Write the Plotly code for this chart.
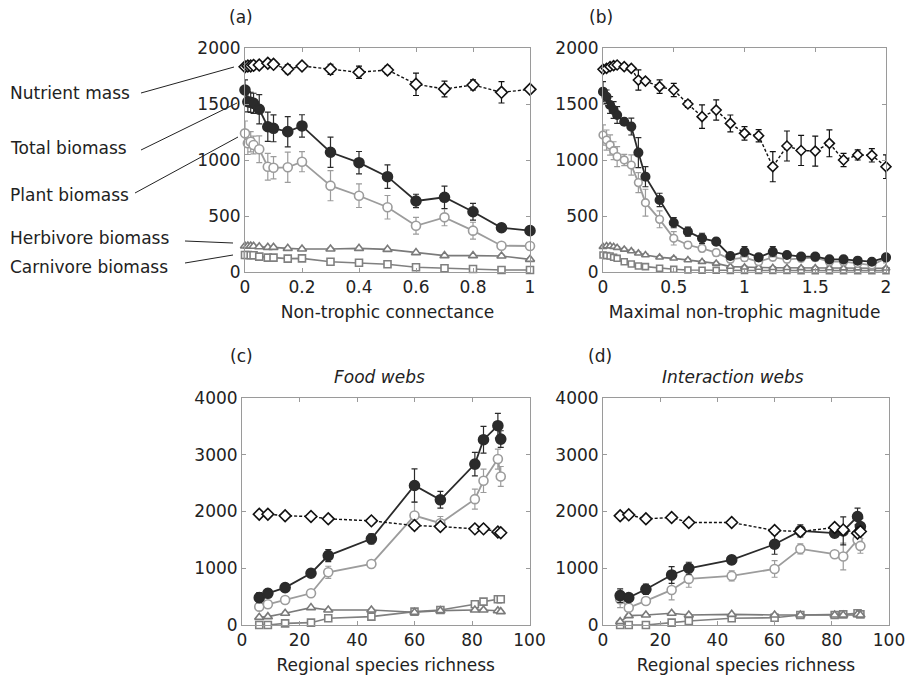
import plotly.graph_objects as go

# ---------------- data ----------------
a_x = [0, 0.01, 0.02, 0.03, 0.05, 0.08, 0.1, 0.15, 0.2, 0.3, 0.4, 0.5, 0.6, 0.7, 0.8, 0.9, 1.0]
a_nut = [1833, 1840, 1840, 1845, 1848, 1863, 1854, 1810, 1839, 1810, 1783, 1804, 1676, 1634, 1670, 1604, 1631]
a_nut_err = [10, 10, 10, 10, 15, 15, 20, 40, 30, 45, 55, 35, 100, 70, 45, 95, 25]
a_tot = [1625, 1520, 1515, 1506, 1453, 1297, 1283, 1253, 1304, 1069, 976, 851, 634, 667, 538, 395, 369]
a_tot_err = [90, 90, 90, 90, 130, 130, 120, 135, 100, 135, 100, 105, 60, 100, 75, 30, 25]
a_pla = [1238, 1149, 1163, 1134, 1096, 940, 931, 935, 985, 771, 681, 578, 413, 488, 369, 235, 232]
a_pla_err = [110, 100, 90, 80, 120, 120, 100, 135, 90, 135, 105, 105, 75, 75, 75, 20, 15]
a_her = [232, 232, 232, 230, 226, 220, 220, 211, 205, 205, 211, 202, 173, 146, 146, 143, 113]
a_her_err = [10, 10, 10, 10, 10, 10, 10, 10, 10, 10, 10, 10, 10, 10, 10, 10, 10]
a_car = [152, 152, 150, 150, 137, 128, 128, 119, 122, 92, 83, 69, 42, 33, 27, 18, 18]
a_car_err = [8, 8, 8, 8, 8, 8, 8, 8, 8, 8, 8, 8, 8, 8, 8, 8, 8]

b_x = [0, 0.025, 0.05, 0.075, 0.1, 0.15, 0.2, 0.25, 0.3, 0.4, 0.5, 0.6, 0.7, 0.8, 0.9, 1.0,
       1.1, 1.2, 1.3, 1.4, 1.5, 1.6, 1.7, 1.8, 1.9, 2.0]
b_nut = [1810, 1818, 1833, 1842, 1848, 1833, 1818, 1714, 1705, 1655, 1625, 1500, 1387, 1446, 1327, 1238,
         1217, 940, 1125, 1085, 1080, 1149, 1000, 1045, 1042, 940]
b_nut_err = [5, 5, 5, 5, 5, 10, 10, 90, 15, 60, 60, 30, 105, 90, 75, 60, 55, 134, 134, 134, 134, 120, 60, 45, 60, 105]
b_tot = [1610, 1565, 1491, 1446, 1402, 1342, 1298, 1066, 851, 643, 440, 360, 301, 271, 143, 181,
         131, 181, 152, 137, 137, 113, 113, 101, 92, 131]
b_tot_err = [90, 60, 75, 75, 75, 30, 75, 134, 90, 60, 45, 40, 45, 30, 30, 45, 30, 45, 30, 25, 25, 20, 20, 20, 20, 30]
b_pla = [1223, 1178, 1134, 1083, 1030, 1000, 955, 798, 619, 470, 301, 241, 211, 173, 113, 128,
         92, 131, 113, 122, 128, 92, 92, 77, 62, 122]
b_pla_err = [90, 90, 90, 80, 90, 50, 90, 90, 120, 75, 60, 30, 30, 30, 30, 30, 30, 30, 30, 30, 30, 30, 30, 30, 30, 40]
b_her = [226, 232, 232, 226, 217, 202, 187, 167, 152, 131, 122, 107, 92, 77, 48, 42,
         40, 38, 38, 36, 35, 35, 34, 34, 33, 33]
b_her_err = [10] * 26
b_car = [152, 146, 143, 131, 122, 92, 71, 54, 48, 33, 24, 18, 16, 15, 14, 14,
         13, 13, 13, 12, 12, 12, 12, 12, 12, 12]
b_car_err = [8] * 26

c_x = [6, 9, 15, 24, 30, 45, 60, 69, 81, 84, 89, 90]
c_nut = [1953, 1953, 1924, 1912, 1871, 1835, 1753, 1735, 1694, 1694, 1640, 1625]
c_nut_err = [10, 10, 20, 20, 30, 20, 60, 40, 20, 20, 40, 40]
c_tot = [482, 559, 659, 912, 1223, 1518, 2458, 2206, 2835, 3265, 3512, 3276]
c_tot_err = [90, 70, 40, 40, 106, 90, 294, 147, 206, 235, 218, 147]
c_pla = [323, 365, 441, 559, 929, 1076, 1929, 1794, 2218, 2541, 2924, 2617]
c_pla_err = [40, 40, 30, 30, 106, 40, 235, 118, 176, 206, 176, 176]
c_her = [135, 147, 206, 306, 265, 265, 224, 253, 265, 265, 250, 235]
c_her_err = [15] * 12
c_car = [0, 0, 29, 41, 118, 147, 235, 265, 365, 412, 453, 453]
c_car_err = [10, 10, 10, 10, 15, 15, 20, 20, 25, 25, 30, 30]

d_x = [6, 9, 15, 24, 30, 45, 60, 69, 81, 84, 89, 90]
d_nut = [1924, 1941, 1871, 1894, 1806, 1806, 1665, 1647, 1718, 1676, 1618, 1647]
d_nut_err = [15, 15, 40, 30, 25, 25, 50, 40, 30, 30, 40, 40]
d_tot = [518, 482, 629, 882, 1000, 1147, 1423, 1659, 1618, 1659, 1912, 1735]
d_tot_err = [118, 40, 90, 147, 106, 70, 176, 106, 60, 247, 147, 147]
d_pla = [453, 306, 424, 618, 812, 865, 988, 1341, 1247, 1206, 1500, 1394]
d_pla_err = [147, 40, 60, 176, 147, 90, 147, 90, 50, 235, 90, 130]
d_her = [59, 165, 176, 206, 176, 188, 176, 176, 176, 176, 188, 176]
d_her_err = [15] * 12
d_car = [0, 0, 0, 41, 71, 118, 129, 176, 176, 188, 206, 188]
d_car_err = [10] * 12

series_labels = ["Nutrient mass", "Total biomass", "Plant biomass", "Herbivore biomass", "Carnivore biomass"]
panel_tags = ["(a)", "(b)", "(c)", "(d)"]
panel_titles = ["Food webs", "Interaction webs"]
x_titles = ["Non-trophic connectance", "Maximal non-trophic magnitude",
            "Regional species richness", "Regional species richness"]

# ---------------- styling ----------------
W, H = 908, 679
FONT = "DejaVu Sans"
FS = 17
C_TOT = "#2b2b2b"
C_PLA = "#9c9c9c"
C_HER = "#7a7a7a"
C_CAR = "#808080"
C_NUT = "#111111"
C_AX = "#9a9a9a"


def fx(px):
    return px / W


def fy(py):
    return 1 - py / H


fig = go.Figure()

panels = [
    dict(x=a_x, nut=(a_nut, a_nut_err), tot=(a_tot, a_tot_err), pla=(a_pla, a_pla_err),
         her=(a_her, a_her_err), car=(a_car, a_car_err), xa="x", ya="y", ms=1.0),
    dict(x=b_x, nut=(b_nut, b_nut_err), tot=(b_tot, b_tot_err), pla=(b_pla, b_pla_err),
         her=(b_her, b_her_err), car=(b_car, b_car_err), xa="x2", ya="y2", ms=0.85),
    dict(x=c_x, nut=(c_nut, c_nut_err), tot=(c_tot, c_tot_err), pla=(c_pla, c_pla_err),
         her=(c_her, c_her_err), car=(c_car, c_car_err), xa="x3", ya="y3", ms=1.0),
    dict(x=d_x, nut=(d_nut, d_nut_err), tot=(d_tot, d_tot_err), pla=(d_pla, d_pla_err),
         her=(d_her, d_her_err), car=(d_car, d_car_err), xa="x4", ya="y4", ms=1.0),
]


def add(p, key, name, color, symbol, size, fill, dash="solid", lw=1.6):
    y, e = p[key]
    fig.add_trace(go.Scatter(
        x=p["x"], y=y, name=name, mode="lines+markers", xaxis=p["xa"], yaxis=p["ya"],
        line=dict(color=color, width=lw, dash=dash),
        marker=dict(symbol=symbol, size=size * p["ms"], color=fill, line=dict(color=color, width=1.6)),
        error_y=dict(type="data", array=e, color=color, thickness=1.2, width=3),
        cliponaxis=False, showlegend=False))


for p in panels:
    add(p, "car", series_labels[4], C_CAR, "square", 7, "white")
    add(p, "her", series_labels[3], C_HER, "triangle-up", 8, "white")
    add(p, "pla", series_labels[2], C_PLA, "circle", 9, "white", lw=1.8)
    add(p, "tot", series_labels[1], C_TOT, "circle", 10, C_TOT, lw=1.8)
    add(p, "nut", series_labels[0], C_NUT, "diamond", 9, "white", dash="3px,2px", lw=1.4)

ax_common = dict(showline=True, mirror="ticks", linecolor=C_AX, linewidth=1, ticks="inside",
                 ticklen=4, tickcolor=C_AX, showgrid=False, zeroline=False, automargin=False,
                 tickfont=dict(family=FONT, size=FS, color="#222"))

doms = [
    ((245, 530), (48, 272)),
    ((603, 886), (48, 272)),
    ((242, 529.5), (398, 625)),
    ((603, 889), (398, 625)),
]
xranges = [[0, 1], [0, 2], [0, 100], [0, 100]]
xticks = [[0, 0.2, 0.4, 0.6, 0.8, 1], [0, 0.5, 1, 1.5, 2], [0, 20, 40, 60, 80, 100], [0, 20, 40, 60, 80, 100]]
yranges = [[0, 2000], [0, 2000], [0, 4000], [0, 4000]]
yticks = [[0, 500, 1000, 1500, 2000], [0, 500, 1000, 1500, 2000],
          [0, 1000, 2000, 3000, 4000], [0, 1000, 2000, 3000, 4000]]

layout = {}
for i, ((x0, x1), (y0, y1)) in enumerate(doms):
    s = "" if i == 0 else str(i + 1)
    layout["xaxis" + s] = dict(ax_common, domain=[fx(x0), fx(x1)], range=xranges[i],
                               tickvals=xticks[i], anchor="y" + s,
                               title=dict(text=x_titles[i], font=dict(family=FONT, size=FS, color="#222"),
                                          standoff=9))
    layout["yaxis" + s] = dict(ax_common, domain=[fy(y1), fy(y0)], range=yranges[i],
                               tickvals=yticks[i], anchor="x" + s)

fig.update_layout(template="none")
fig.update_layout(**layout)

annotations = []
tag_pos = [(241, 17), (601, 17), (241, 356), (600, 356)]
for t, (x, y) in zip(panel_tags, tag_pos):
    annotations.append(dict(text=t, x=fx(x), y=fy(y), xref="paper", yref="paper",
                            xanchor="center", yanchor="middle",
                            showarrow=False, font=dict(family=FONT, size=FS, color="#222")))
for t, (x, y) in zip(panel_titles, [(379, 377), (733, 377)]):
    annotations.append(dict(text="<i>" + t + "</i>", x=fx(x), y=fy(y), xref="paper", yref="paper",
                            xanchor="center", yanchor="middle",
                            showarrow=False, font=dict(family=FONT, size=FS, color="#222")))

label_pos = [(93, (141, 93), (234, 67)), (148, (141, 150), (237, 103)), (195, (135, 193), (238, 137)),
             (238, (185, 241), (233, 243)), (267, (185, 263), (233, 255))]
shapes = []
for name, (ty, p0, p1) in zip(series_labels, label_pos):
    annotations.append(dict(text=name, x=fx(8), y=fy(ty), xref="paper", yref="paper",
                            xanchor="left", yanchor="middle", showarrow=False,
                            font=dict(family=FONT, size=FS, color="#222")))
    shapes.append(dict(type="line", xref="paper", yref="paper", x0=fx(p0[0]), y0=fy(p0[1]),
                       x1=fx(p1[0]), y1=fy(p1[1]), line=dict(color="#222", width=1)))

fig.update_layout(width=W, height=H, margin=dict(l=0, r=0, t=0, b=0, autoexpand=False),
                  paper_bgcolor="white", plot_bgcolor="white",
                  annotations=annotations, shapes=shapes,
                  font=dict(family=FONT, size=FS, color="#222"))

fig.write_html("out.html", config={"displayModeBar": False},
               post_script="document.body.style.margin='0px';document.body.style.overflow='hidden';")
